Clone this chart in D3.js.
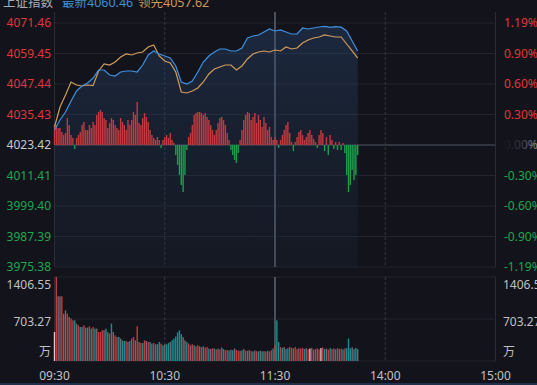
<!DOCTYPE html>
<html><head><meta charset="utf-8">
<script src="https://cdn.jsdelivr.net/npm/d3@7"></script>
<style>
html,body{margin:0;padding:0;background:#13141b;overflow:hidden}
svg{display:block}
</style></head><body><svg id="c" width="537" height="385"></svg>
<script>
// ---------- data ----------
const title = "上证指数", latestLabel = "最新", leadLabel = "领先";
const latest = "4060.46", lead = "4057.62";
const timeLabels = ["09:30", "10:30", "11:30", "14:00", "15:00"];
const timeMinutes = [0, 60, 120, 180, 240];
const priceTicks = ["4071.46", "4059.45", "4047.44", "4035.43", "4023.42", "4011.41", "3999.40", "3987.39", "3975.38"];
const pctTicks = ["1.19%", "0.90%", "0.60%", "0.30%", "0.00%", "-0.30%", "-0.60%", "-0.90%", "-1.19%"];
const volTicks = ["1406.55", "703.27"];
const volUnit = "万";
const lineStep = 3; // minutes between line samples
const indexLine = [
  4029.33, 4033.27, 4036.42, 4040.75, 4044.69, 4046.65, 4047.84, 4049.80, 4052.96, 4052.96,
  4050.99, 4050.59, 4052.17, 4052.56, 4052.56, 4052.17, 4054.92, 4058.86, 4060.44, 4059.26,
  4058.47, 4057.68, 4054.53, 4048.23, 4047.44, 4048.62, 4052.17, 4056.11, 4058.47, 4060.04,
  4061.22, 4061.22, 4060.44, 4060.44, 4061.62, 4065.56, 4066.34, 4066.74, 4067.92, 4069.10,
  4068.31, 4068.71, 4067.92, 4067.13, 4067.13, 4069.49, 4069.10, 4069.49, 4069.89, 4070.12,
  4069.75, 4070.05, 4069.81, 4068.31, 4064.38, 4060.46
];
const leadLine = [
  4030.51, 4038.38, 4043.11, 4048.23, 4047.05, 4046.65, 4047.05, 4046.80, 4052.56, 4055.32,
  4054.92, 4056.11, 4058.07, 4059.26, 4058.86, 4059.65, 4060.04, 4062.00, 4062.80, 4058.47,
  4056.50, 4055.71, 4052.17, 4044.29, 4043.90, 4044.69, 4045.87, 4048.23, 4051.38, 4053.35,
  4054.14, 4054.92, 4054.92, 4052.96, 4054.53, 4057.29, 4059.26, 4060.04, 4060.44, 4060.04,
  4060.83, 4060.44, 4062.01, 4061.22, 4061.62, 4063.59, 4064.77, 4065.56, 4065.95, 4066.74,
  4066.34, 4065.95, 4065.95, 4063.19, 4060.44, 4057.62
];
// per-minute buying strength (red up / green down)
const strength = [
  20,20,17,17,13,10,12,27,
  20,10,7,-4,7,10,13,20,23,15,15,20,17,23,20,30,33,35,33,27,25,17,22,27,25,20,17,15,27,23,20,15,25,20,
  25,33,30,43,22,20,27,32,28,23,15,10,7,5,8,5,-3,5,8,10,7,12,5,2,-10,-20,-30,-40,-47,-30,-5,8,12,20,
  30,32,33,33,32,30,32,28,25,20,15,10,15,22,27,28,25,20,12,5,-5,-10,-15,-18,-8,5,15,25,30,33,32,25,28,32,
  22,30,25,18,28,22,15,18,8,5,8,5,-3,5,10,15,20,23,12,3,-6,3,8,13,15,10,5,8,12,15,10,6,3,-3,
  10,15,12,-6,8,-10,10,5,-4,3,-5,3,-5,2,-8,-30,-47,-40,-25,-35,-30,-10
];
// per-minute volume (万)
const volume = [
  486,1406,1083,1083,1083,793,849,793,737,710,
  681,681,626,598,569,569,598,559,559,581,
  542,569,542,542,486,486,514,514,542,486,
  459,626,486,430,402,402,375,346,335,335,
  318,335,375,402,346,581,318,301,301,346,
  335,318,318,291,301,280,280,318,291,263,
  280,280,301,318,346,375,410,480,514,450,
  400,346,318,291,263,280,263,246,263,246,
  234,246,224,234,
  208,200,215,208,195,208,195,225,200,180,
  185,175,190,180,210,185,175,170,180,200,
  175,170,180,165,160,175,165,160,170,160,
  165,160,170,160,180,210,
  260,681,318,234,220,234,200,215,234,220,
  210,234,200,215,208,220,200,215,195,208,
  220,190,200,208,195,215,230,200,208,190,
  215,200,208,195,215,200,208,195,210,215,
  375,210,230,200,220,200
];
const volDir = "wrxxrxxrxrrtxrtxrtxrtrtxrrrxtxrtxrrtxttrxtrrxrxrtrxrtxrtxtrtxttxttttttxxtrxrtrrxrtr" +
               "rtxrtrxrtxrrtxtxrrxtxrtxrtxrtxtxrtrrtrttrtxttrrtrrxrrtxrwrtrxrwrtxrtrxtrxrtrtttxtt";

// ---------- layout ----------
const X0 = 54.5, X1 = 495.5, YT = 23, YB = 267, VT = 277, VB = 361;
const font = "'Noto Sans','Noto Sans CJK SC',sans-serif";
const RED = "#e0363d", GREEN = "#1fa64f", GRAY = "#c6c7cb";

const svg = d3.select("#c");
const x = d3.scaleLinear().domain([0, 240]).range([X0, X1]);
const y = d3.scaleLinear().domain([+priceTicks[8], +priceTicks[0]]).range([YB, YT]);
const ys = d3.scaleLinear().domain([-122, 122]).range([YB, YT]);
const yv = d3.scaleLinear().domain([0, +volTicks[0]]).range([VB, VT]);

svg.append("rect").attr("width", 537).attr("height", 385).attr("fill", "#13141b");

const defs = svg.append("defs");
const g1 = defs.append("linearGradient").attr("id", "af").attr("x1", 0).attr("x2", 0).attr("y1", 0).attr("y2", 1);
g1.append("stop").attr("offset", "0%").attr("stop-color", "#2a4a78").attr("stop-opacity", 0.38);
g1.append("stop").attr("offset", "100%").attr("stop-color", "#1d2c45").attr("stop-opacity", 0.18);
const g2 = defs.append("linearGradient").attr("id", "zf").attr("x1", 0).attr("x2", 1);
g2.append("stop").attr("offset", "0%").attr("stop-color", "#13141b");
g2.append("stop").attr("offset", "55%").attr("stop-color", "#3a3c44");
g2.append("stop").attr("offset", "100%").attr("stop-color", "#a0a0a4");

// horizontal grid
const grid = svg.append("g");
priceTicks.forEach((t, i) => {
  grid.append("line").attr("x1", X0).attr("x2", X1).attr("y1", y(+t)).attr("y2", y(+t))
    .attr("stroke", i === 4 ? "#3c404c" : "#22252e").attr("stroke-width", i === 4 ? 1.5 : 1);
});
[VT, yv(+volTicks[1]), VB].forEach(v => {
  grid.append("line").attr("x1", X0).attr("x2", X1).attr("y1", v).attr("y2", v)
    .attr("stroke", "#22252e");
});
// vertical grid
timeMinutes.forEach((m, i) => {
  const xx = x(m);
  [[12, YB], [VT, VB]].forEach(([a, b]) => {
    const l = grid.append("line").attr("x1", xx).attr("x2", xx).attr("y1", a).attr("y2", b);
    if (i === 2) l.attr("stroke", "#4c505d").attr("stroke-width", 2);
    else if (i === 1 || i === 3) l.attr("stroke", "#34373f").attr("stroke-dasharray", "3,2");
    else l.attr("stroke", "#2a2d36");
  });
});

// area under index line
const pts = indexLine.map((v, i) => ({ m: i * lineStep, v }));
const lpts = leadLine.map((v, i) => ({ m: i * lineStep, v }));
svg.append("path").datum(pts)
  .attr("d", d3.area().x(d => x(d.m)).y0(YB).y1(d => y(d.v)))
  .attr("fill", "url(#af)");

// strength bars
svg.append("g").selectAll("rect").data(strength).join("rect")
  .attr("x", (d, i) => x(i) - 0.7).attr("width", 1.4)
  .attr("y", d => Math.min(ys(d), ys(0))).attr("height", d => Math.abs(ys(d) - ys(0)))
  .attr("fill", d => d >= 0 ? "#c23a40" : "#1c9e4c");

// lines
const line = d3.line().x(d => x(d.m)).y(d => y(d.v));
svg.append("path").datum(lpts).attr("d", line).attr("fill", "none")
  .attr("stroke", "#d29b5a").attr("stroke-width", 1.2);
svg.append("path").datum(pts).attr("d", line).attr("fill", "none")
  .attr("stroke", "#3f8fe0").attr("stroke-width", 1.2);

// volume bars
const vcol = { r: "#c13b41", t: "#1a8e8f", x: "#7a6470", w: "#e8c4d0" };
svg.append("g").selectAll("rect").data(volume).join("rect")
  .attr("x", (d, i) => x(i) - 0.7).attr("width", 1.4)
  .attr("y", d => yv(d)).attr("height", d => yv(0) - yv(d))
  .attr("fill", (d, i) => vcol[volDir[i]] || vcol.x);

// header
const hdr = svg.append("text").attr("y", 7).attr("font-size", 12.5).attr("font-family", font);
hdr.append("tspan").attr("x", 3).attr("fill", "#a9acb4").text(title);
hdr.append("tspan").attr("x", 62).attr("fill", "#3f8fdc").text(latestLabel + latest);
hdr.append("tspan").attr("x", 138).attr("fill", "#cf9a58").text(leadLabel + lead);

// left price labels & right percent labels
priceTicks.forEach((t, i) => {
  const c = i < 4 ? RED : (i === 4 ? GRAY : GREEN);
  svg.append("text").attr("x", 51).attr("y", y(+t) + 4).attr("text-anchor", "end")
    .attr("font-size", 12).attr("font-family", font).attr("fill", c).text(t);
  svg.append("text").attr("x", 504).attr("y", y(+t) + 4)
    .attr("font-size", 12).attr("font-family", font)
    .attr("fill", i === 4 ? "url(#zf)" : c).text(pctTicks[i]);
});

// volume labels
const vl = [[volTicks[0], 289], [volTicks[1], 326], [volUnit, 356]];
vl.forEach(([t, yy]) => {
  svg.append("text").attr("x", 51).attr("y", yy).attr("text-anchor", "end")
    .attr("font-size", 12).attr("font-family", font).attr("fill", "#bfc0c4").text(t);
  svg.append("text").attr("x", 503).attr("y", yy)
    .attr("font-size", 12).attr("font-family", font).attr("fill", "#bfc0c4").text(t);
});

// time labels
timeLabels.forEach((t, i) => {
  svg.append("text").attr("x", x(timeMinutes[i])).attr("y", 380).attr("text-anchor", "middle")
    .attr("font-size", 12).attr("font-family", font).attr("fill", "#c0c1c6").text(t);
});

// bottom strip
svg.append("rect").attr("x", 0).attr("y", 383).attr("width", 537).attr("height", 2).attr("fill", "#1f3048");
</script></body></html>
